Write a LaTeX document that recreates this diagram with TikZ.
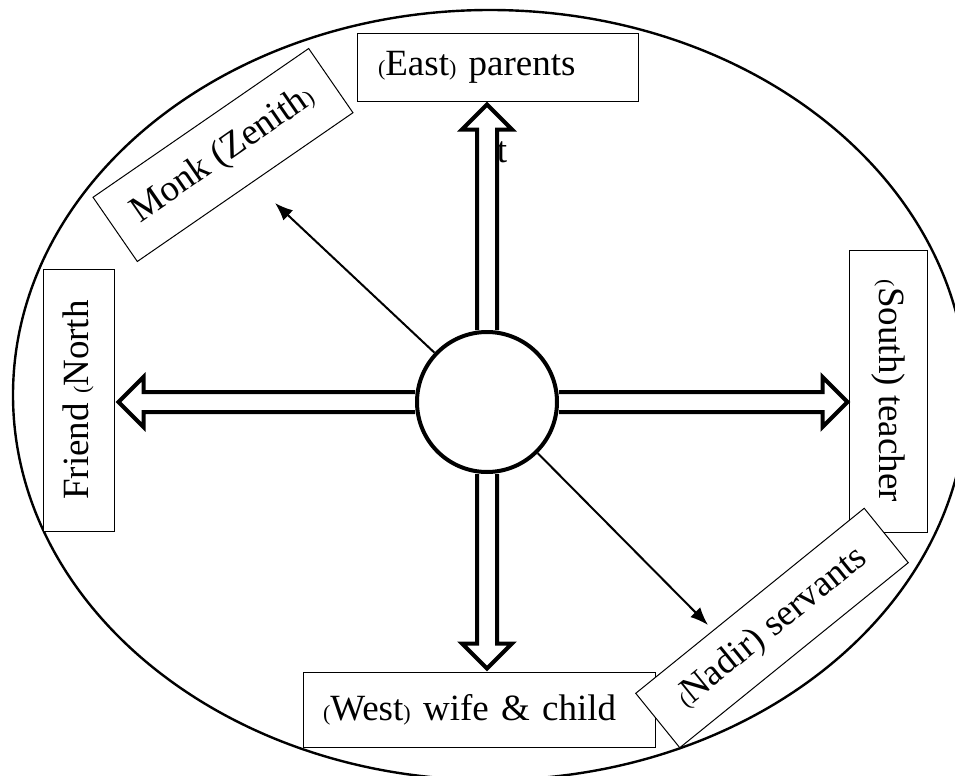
\documentclass[tikz,border=0pt]{standalone}
\usepackage{fontspec}
\setmainfont{Liberation Serif}
\usetikzlibrary{calc,arrows.meta}

\newcommand{\sopen}{{\fontsize{11}{11}\selectfont(}}
\newcommand{\sclose}{{\fontsize{11}{11}\selectfont)}}

\tikzset{
  labelbox/.style={draw, fill=white, line width=0.5pt, inner sep=0pt,
    font=\fontsize{18.5}{20}\selectfont},
  hubcircle/.style={draw, circle, fill=white, line width=2pt,
    minimum size=70pt, inner sep=0pt},
  blockline/.style={line width=2pt, line join=miter},
  thinarrow/.style={line width=1pt, -{Latex[length=9pt,width=7pt]}},
}

\begin{document}
\begin{tikzpicture}[x=0.5pt, y=-0.5pt]
  \useasboundingbox (0,0) rectangle (955,776);
  \clip (0,0) rectangle (955,776);
  \draw[line width=1.2pt] (490,395) ellipse [x radius=238.5pt, y radius=192.5pt];

  % boxes round the centre
  \node[labelbox, minimum height=34pt, inner xsep=10.5pt, text width=119.5pt, align=left]
    (parents) at (497.5,67) {\sopen East\sclose{} parents};
  \node[labelbox, minimum height=37.5pt, inner xsep=10pt, text width=156pt, align=left]
    (wife) at (479,709.5) {\sopen West\sclose{} wife \& child};
  \node[labelbox, rotate=90, minimum width=131pt, minimum height=35.5pt]
    (friend) at (78.5,400) {Friend \sopen North};
  \node[labelbox, rotate=-90, minimum width=141pt, minimum height=39pt]
    (teacher) at (888,391) {\sopen South) teacher};
  \node[labelbox, rotate=34.6, minimum width=131pt, minimum height=39pt]
    (monk) at (223,155) {Monk (Zenith\sclose};
  \node[labelbox, rotate=39, minimum width=147pt, minimum height=35pt]
    (servants) at (772,628) {\sopen Nadir) servants};

  \node[hubcircle] (hub) at (487,402) {};

  % hollow arrows
  \coordinate (uptip) at ($(hub.north |- parents.south)+(0,3)$);
  \draw[blockline] ($(hub.north)+(-10,0)$) -- ($(uptip)+(-10,25)$) -- ($(uptip)+(-25,25)$)
    -- (uptip) -- ($(uptip)+(25,25)$) -- ($(uptip)+(10,25)$) -- ($(hub.north)+(10,0)$);
  \coordinate (downtip) at ($(hub.south |- wife.north)+(0,-3)$);
  \draw[blockline] ($(hub.south)+(-10,0)$) -- ($(downtip)+(-10,-25)$) -- ($(downtip)+(-25,-25)$)
    -- (downtip) -- ($(downtip)+(25,-25)$) -- ($(downtip)+(10,-25)$) -- ($(hub.south)+(10,0)$);
  \coordinate (lefttip) at ($(hub.west -| friend.south)+(4,0)$);
  \draw[blockline] ($(hub.west)+(0,-10)$) -- ($(lefttip)+(25,-10)$) -- ($(lefttip)+(25,-25)$)
    -- (lefttip) -- ($(lefttip)+(25,25)$) -- ($(lefttip)+(25,10)$) -- ($(hub.west)+(0,10)$);
  \coordinate (righttip) at ($(hub.east -| teacher.south)+(-1,0)$);
  \draw[blockline] ($(hub.east)+(0,-10)$) -- ($(righttip)+(-25,-10)$) -- ($(righttip)+(-25,-25)$)
    -- (righttip) -- ($(righttip)+(-25,25)$) -- ($(righttip)+(-25,10)$) -- ($(hub.east)+(0,10)$);

  % thin arrows
  \coordinate (zenithtip) at (275,203);
  \coordinate (nadirtip) at (708,625);
  \draw[thinarrow] (hub) -- (zenithtip);
  \draw[thinarrow] (hub) -- (nadirtip);

  \node[font=\fontsize{18.5}{20}\selectfont, inner sep=0pt] (stray) at (502,152) {t};
\end{tikzpicture}
\end{document}
